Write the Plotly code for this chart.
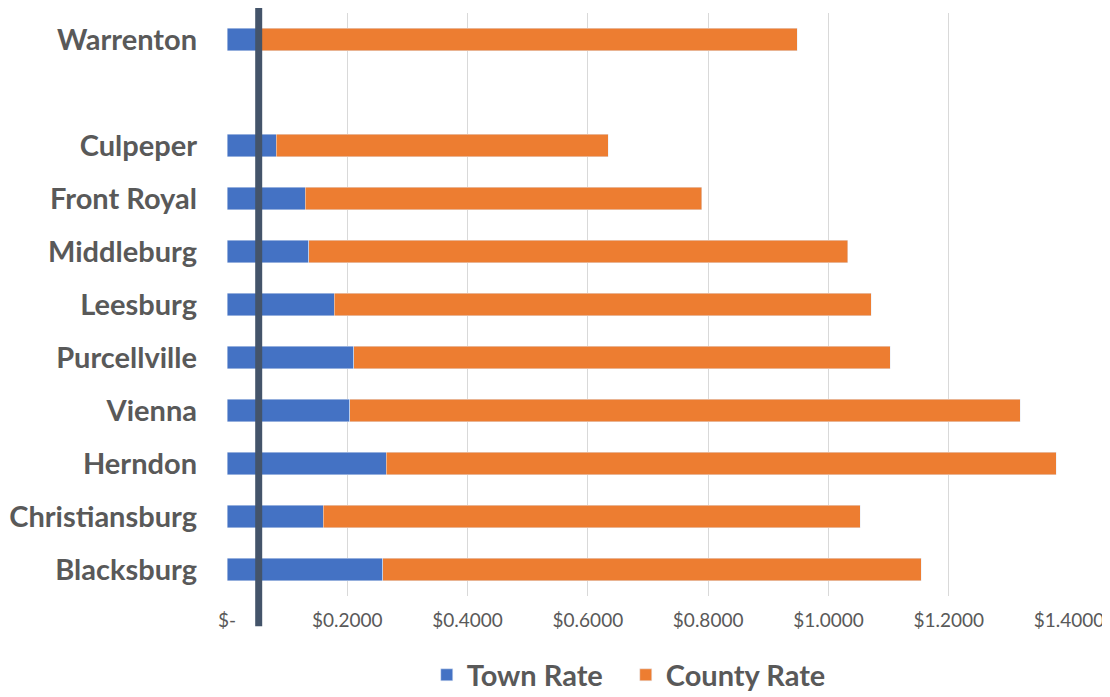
import plotly.graph_objects as go

# towns listed bottom to top; " " is the empty gap row under Warrenton
towns = ["Blacksburg", "Christiansburg", "Herndon", "Vienna", "Purcellville",
         "Leesburg", "Middleburg", "Front Royal", "Culpeper", " ", "Warrenton"]
town_rate = [0.259, 0.160, 0.265, 0.204, 0.211, 0.178, 0.136, 0.130, 0.082, None, 0.050]
county_rate = [0.895, 0.893, 1.114, 1.115, 0.892, 0.893, 0.896, 0.659, 0.552, None, 0.898]

marker_rate = 0.0527  # reference line (Warrenton town rate)

tick_vals = [0, 0.2, 0.4, 0.6, 0.8, 1.0, 1.2, 1.4]
tick_text = ["$-", "$0.2000", "$0.4000", "$0.6000", "$0.8000", "$1.0000", "$1.2000", "$1.4000"]

fig = go.Figure()
fig.add_trace(go.Bar(y=towns, x=town_rate, name="Town Rate", orientation="h",
                     marker=dict(color="#4472C4")))
fig.add_trace(go.Bar(y=towns, x=county_rate, name="County Rate", orientation="h",
                     marker=dict(color="#ED7D31")))

# dark vertical marker, runs a little past the plot area like the original
fig.add_shape(type="line", xref="x", yref="paper", x0=marker_rate, x1=marker_rate,
              y0=-0.052, y1=1.015, line=dict(color="#44546A", width=7))

# page body adds an 8px offset, so the figure is sized a bit smaller
fig.update_layout(
    barmode="stack",
    bargap=0.58,
    width=1102, height=689,
    margin=dict(l=219, r=41, t=5, b=101),
    plot_bgcolor="white", paper_bgcolor="white",
    font=dict(family="Lato", color="#595959"),
    legend=dict(orientation="h", xref="container", yref="container",
                x=0.380, y=0.032, xanchor="left", yanchor="middle",
                font=dict(size=29, color="#595959", family="Lato", weight="bold"),
                itemwidth=30, entrywidth=154, traceorder="normal"),
    showlegend=True,
)
fig.update_xaxes(range=[0, 1.4], tickvals=tick_vals, ticktext=tick_text,
                 showgrid=True, gridcolor="#d9d9d9", gridwidth=1, zeroline=False,
                 tickfont=dict(size=19, color="#595959"), ticklabelstandoff=11,
                 automargin=False)
fig.update_yaxes(categoryorder="array", categoryarray=towns, showgrid=False,
                 tickfont=dict(size=29, color="#595959", family="Lato", weight="bold"),
                 ticklabelstandoff=29, automargin=False)

fig.write_html("out.html")
